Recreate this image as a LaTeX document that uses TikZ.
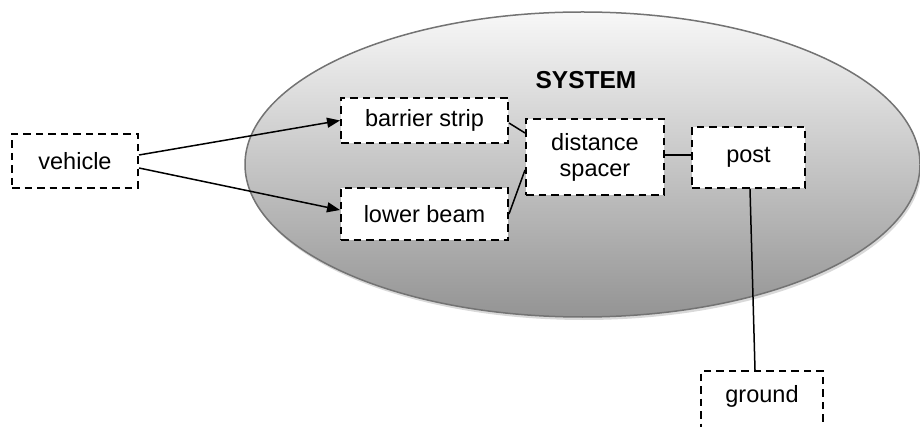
\documentclass[tikz,border=0pt]{standalone}
\usepackage{fontspec}
\setmainfont{Liberation Sans}
\usetikzlibrary{arrows.meta}
\tikzset{
  box/.style={draw=black, line width=2pt, dash pattern=on 7.5pt off 5pt, fill=white,
    inner sep=0pt, font=\fontsize{23.5}{26}\selectfont, align=center},
  conn/.style={draw=black, line width=1.5pt},
  arr/.style={conn, -{Triangle[length=13pt,width=10pt]}},
}
\begin{document}
\begin{tikzpicture}[x=1pt,y=-1pt]
\useasboundingbox (0,0) rectangle (920,427);
% shadow
\fill[black!15] (584,167.5) ellipse [x radius=337.5, y radius=152.5];
% system ellipse
\shade[top color=black!3, bottom color=black!42, draw=black!55, line width=1.5pt]
  (582.5,164.5) ellipse [x radius=337.5, y radius=152.5];
\node[font=\bfseries\fontsize{24.5}{26}\selectfont] (sys) at (586,80) {SYSTEM};
% nodes
\node[box, minimum width=126, minimum height=54] (vehicle) at (75,161) {vehicle};
\node[box, minimum width=167, minimum height=45] (barrier) at (424.5,120.5) {barrier strip};
\node[box, minimum width=167, minimum height=52] (lower) at (424.5,214) {lower beam};
\node[box, minimum width=138, minimum height=76] (spacer) at (595,157) {distance\\spacer};
\node[box, minimum width=113, minimum height=61] (post) at (748.5,157.5) {post};
\node[box, minimum width=122, text height=31pt, text depth=60pt, anchor=north] (ground) at (762,370) {ground};
% connectors
\draw[arr] ([yshift=6pt]vehicle.east) -- (barrier.west);
\draw[arr] ([yshift=-7pt]vehicle.east) -- ([yshift=4pt]lower.west);
\draw[conn] ([yshift=-2.5pt]barrier.east) -- ([yshift=24pt]spacer.west);
\draw[conn] (lower.east) -- ([yshift=-13pt]spacer.west);
\draw[conn] ([yshift=2pt]spacer.east) -- ([yshift=2pt]spacer.east -| post.west);
\draw[conn] ([xshift=1.5pt]post.south) -- ([xshift=-7pt]ground.north);
\end{tikzpicture}
\end{document}
